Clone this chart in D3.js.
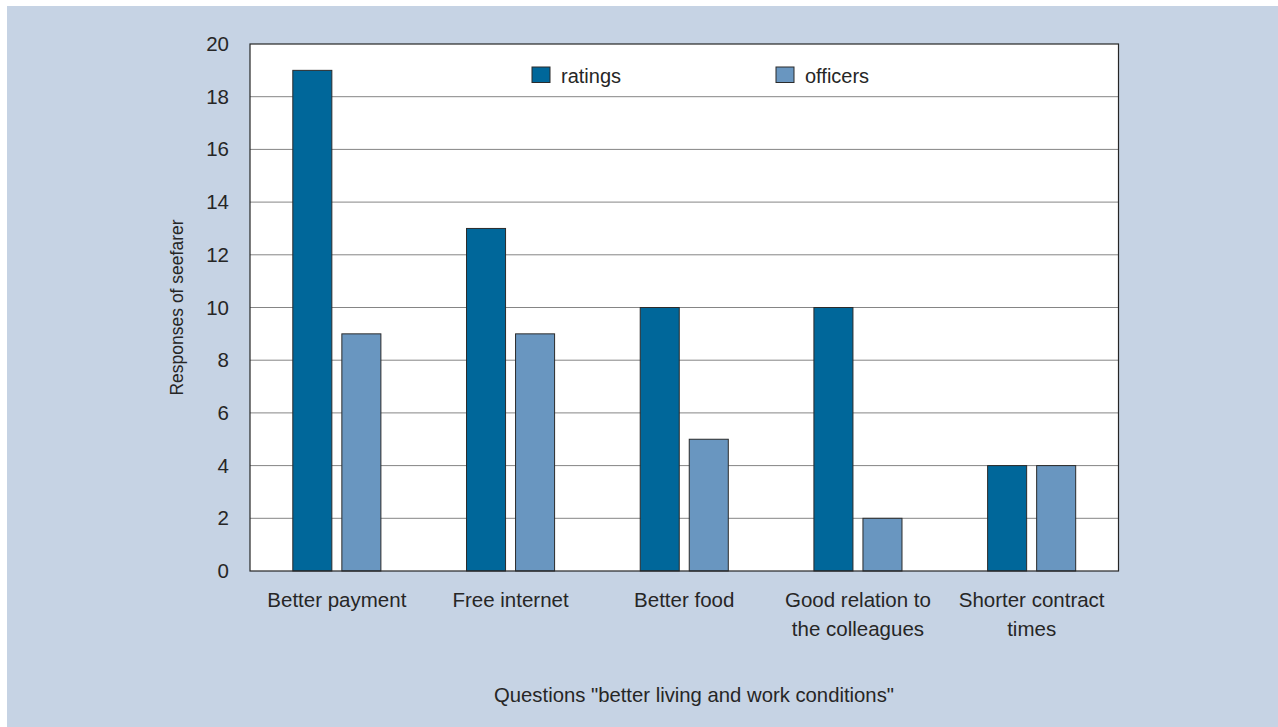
<!DOCTYPE html>
<html>
<head>
<meta charset="utf-8">
<script src="https://cdn.jsdelivr.net/npm/d3@7"></script>
<style>
  body { margin: 0; background: #fff; }
  text { font-family: "Liberation Sans", Arial, sans-serif; fill: #262626; }
</style>
</head>
<body>
<svg id="svg" width="1278" height="727"></svg>
<script>
const categories = [['Better payment'], ['Free internet'], ['Better food'],
  ['Good relation to', 'the colleagues'], ['Shorter contract', 'times']];
const seriesNames = ['ratings', 'officers'];
const ratings = [19, 13, 10, 10, 4];
const officers = [9, 9, 5, 2, 4];
const yTicks = [0, 2, 4, 6, 8, 10, 12, 14, 16, 18, 20];

const colours = { ratings: '#00679a', officers: '#6996c0' };

const plot = { left: 250, top: 44, right: 1118.5, bottom: 571 };

const svg = d3.select('#svg');

// page background
svg.append('rect')
  .attr('x', 7).attr('y', 6)
  .attr('width', 1278 - 7).attr('height', 727 - 6)
  .attr('fill', '#c6d3e4');

svg.append('rect')
  .attr('x', plot.left).attr('y', plot.top)
  .attr('width', plot.right - plot.left).attr('height', plot.bottom - plot.top)
  .attr('fill', '#fff');

const keys = categories.map((d, i) => i);

const x0 = d3.scaleBand()
  .domain(keys)
  .range([plot.left, plot.right]);

const x1 = d3.scaleBand()
  .domain(seriesNames)
  .range([0, x0.bandwidth()])
  .paddingInner(0.204)
  .paddingOuter(0.873);

const y = d3.scaleLinear()
  .domain([0, 20])
  .range([plot.bottom, plot.top]);

// gridlines
svg.append('g')
  .selectAll('line')
  .data(yTicks.slice(1, -1))
  .join('line')
  .attr('x1', plot.left).attr('x2', plot.right)
  .attr('y1', d => y(d)).attr('y2', d => y(d))
  .attr('stroke', '#858585')
  .attr('stroke-width', 1);

// y axis
const yAxis = d3.axisLeft(y)
  .tickValues(yTicks)
  .tickSize(0)
  .tickPadding(21);

const yAxisG = svg.append('g')
  .attr('transform', `translate(${plot.left},0)`)
  .call(yAxis);
yAxisG.select('path.domain').remove();
yAxisG.selectAll('text')
  .style('font-family', '"Liberation Sans", Arial, sans-serif')
  .style('font-size', '20.5px')
  .attr('fill', '#262626');

// bars
const rows = keys.map(i => ({ key: i, values: [
  { name: 'ratings', value: ratings[i] },
  { name: 'officers', value: officers[i] }
] }));

svg.append('g')
  .selectAll('g')
  .data(rows)
  .join('g')
  .attr('transform', d => `translate(${x0(d.key)},0)`)
  .selectAll('rect')
  .data(d => d.values)
  .join('rect')
  .attr('x', d => x1(d.name))
  .attr('y', d => y(d.value))
  .attr('width', x1.bandwidth())
  .attr('height', d => y(0) - y(d.value))
  .attr('fill', d => colours[d.name])
  .attr('stroke', '#2b2b2b')
  .attr('stroke-width', 1);

// frame
svg.append('rect')
  .attr('x', plot.left).attr('y', plot.top)
  .attr('width', plot.right - plot.left).attr('height', plot.bottom - plot.top)
  .attr('fill', 'none')
  .attr('stroke', '#262626')
  .attr('stroke-width', 1.2);

// category labels
const catG = svg.append('g');
catG.selectAll('text')
  .data(rows)
  .join('text')
  .attr('text-anchor', 'middle')
  .style('font-size', '20.5px')
  .each(function(d) {
    d3.select(this).selectAll('tspan')
      .data(categories[d.key])
      .join('tspan')
      .attr('x', x0(d.key) + x0.bandwidth() / 2)
      .attr('y', (t, j) => plot.bottom + 36 + j * 28.5)
      .text(t => t);
  });

// legend
const legendX = [532, 776];
const legend = svg.append('g');
seriesNames.forEach((name, i) => {
  legend.append('rect')
    .attr('x', legendX[i]).attr('y', 67)
    .attr('width', 18).attr('height', 15.5)
    .attr('fill', colours[name])
    .attr('stroke', '#2b2b2b');
  legend.append('text')
    .attr('x', legendX[i] + 29).attr('y', 83)
    .style('font-size', '20px')
    .text(name);
});

// axis titles
svg.append('text')
  .attr('transform', `translate(183,${(plot.top + plot.bottom) / 2}) rotate(-90)`)
  .attr('text-anchor', 'middle')
  .style('font-size', '17.5px')
  .text('Responses of seefarer');

svg.append('text')
  .attr('x', 694).attr('y', 702)
  .attr('text-anchor', 'middle')
  .style('font-size', '20.3px')
  .text('Questions "better living and work conditions"');
</script>
</body>
</html>
